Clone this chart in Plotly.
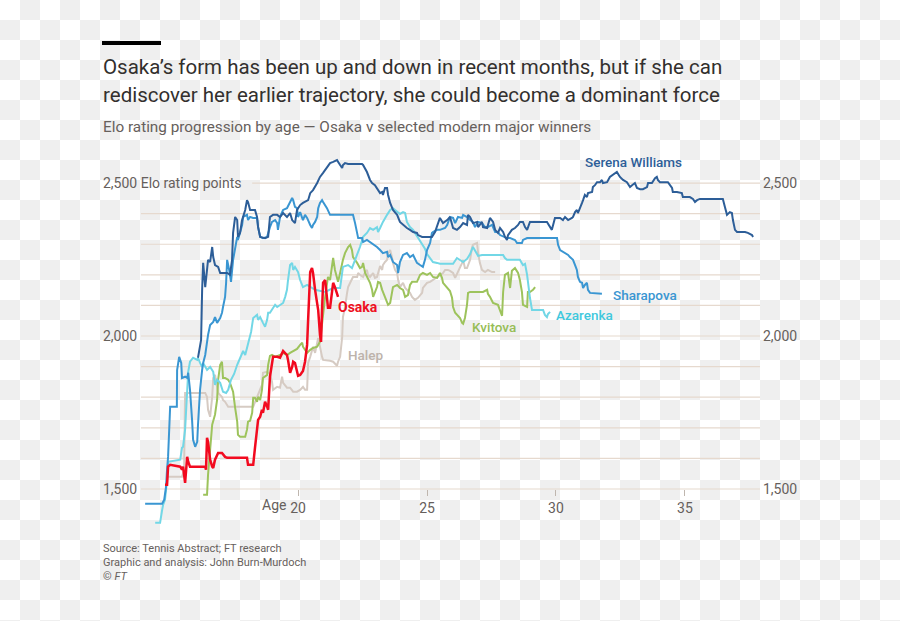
import base64
import plotly.graph_objects as go

# ---------------- data (age, Elo) ----------------
SERENA = [(16.12,1929),(16.24,1987),(16.28,2151),(16.29,2183),(16.32,2239),(16.40,2160),(16.47,2206),(16.51,2249),(16.59,2242),(16.67,2291),(16.71,2258),(16.78,2232),(16.90,2226),(16.98,2206),(17.25,2206),(17.36,2200),(17.44,2249),(17.48,2337),(17.56,2389),(17.64,2379),(17.67,2324),(17.75,2337),(17.83,2379),(17.95,2412),(18.02,2444),(18.06,2438),(18.14,2412),(18.33,2412),(18.41,2389),(18.45,2356),(18.53,2324),(18.72,2320),(18.84,2324),(18.91,2389),(19.03,2396),(19.19,2396),(19.30,2389),(19.42,2402),(19.57,2389),(19.69,2402),(19.77,2379),(19.88,2369),(19.96,2412),(20.08,2428),(20.19,2435),(20.27,2438),(20.39,2444),(20.47,2467),(20.58,2477),(20.74,2500),(20.78,2510),(20.85,2520),(20.97,2533),(21.05,2542),(21.12,2552),(21.24,2565),(21.36,2569),(21.51,2575),(21.63,2559),(21.71,2549),(21.74,2559),(21.82,2565),(21.94,2562),(22.48,2562),(22.52,2559),(22.67,2536),(22.79,2510),(22.87,2500),(22.98,2493),(23.06,2484),(23.18,2467),(23.26,2471),(23.29,2461),(23.37,2484),(23.45,2484),(23.49,2461),(23.57,2435),(23.68,2412),(23.84,2396),(23.95,2373),(24.07,2363),(24.22,2353),(24.34,2347),(24.46,2340),(24.61,2337),(24.65,2330),(24.81,2324),(25.00,2324),(25.19,2324),(25.31,2340),(25.39,2363),(25.50,2386),(25.62,2369),(25.78,2379),(25.89,2389),(26.01,2353),(26.16,2347),(26.28,2356),(26.40,2369),(26.55,2363),(26.59,2396),(26.67,2389),(26.78,2369),(26.94,2373),(26.98,2356),(27.13,2373),(27.17,2356),(27.33,2353),(27.44,2386),(27.56,2373),(27.64,2347),(27.75,2337),(27.83,2353),(27.95,2340),(28.02,2324),(28.10,2314),(28.14,2330),(28.29,2347),(28.41,2353),(28.53,2363),(28.60,2373),(28.72,2373),(28.80,2356),(28.88,2347),(28.99,2373),(29.65,2373),(29.84,2347),(29.88,2363),(29.96,2386),(30.16,2386),(30.27,2379),(30.35,2389),(30.47,2379),(30.62,2386),(30.66,2389),(30.74,2405),(30.81,2412),(30.85,2402),(30.93,2422),(31.01,2435),(31.05,2444),(31.12,2461),(31.20,2454),(31.24,2467),(31.40,2471),(31.43,2487),(31.51,2493),(31.59,2503),(31.71,2503),(31.78,2510),(31.82,2500),(31.98,2503),(32.09,2520),(32.21,2526),(32.36,2536),(32.48,2520),(32.60,2510),(32.75,2503),(32.87,2487),(32.95,2493),(33.06,2500),(33.14,2484),(33.26,2480),(33.37,2480),(33.53,2487),(33.57,2500),(33.72,2500),(33.84,2516),(33.91,2520),(33.95,2510),(34.03,2503),(34.34,2503),(34.42,2493),(34.50,2484),(34.53,2471),(34.69,2471),(34.88,2467),(34.92,2454),(35.19,2454),(35.31,2448),(35.39,2438),(35.47,2444),(35.58,2448),(36.47,2448),(36.55,2422),(36.63,2396),(36.74,2405),(36.82,2402),(36.86,2379),(36.94,2347),(37.02,2340),(37.33,2340),(37.44,2337),(37.60,2330),(37.64,2324)]

SHARAPOVA = [(14.07,1452),(14.73,1452),(14.81,1465),(14.88,1507),(14.92,1563),(14.96,1605),(15.04,1769),(15.23,1769),(15.30,1769),(15.31,1889),(15.39,1932),(15.47,1912),(15.50,1863),(15.62,1867),(15.70,1863),(15.74,1880),(15.81,1824),(15.89,1726),(15.93,1661),(16.01,1638),(16.09,1654),(16.12,1710),(16.20,1824),(16.28,1889),(16.32,1912),(16.40,1938),(16.47,1981),(16.51,2004),(16.59,2036),(16.71,2046),(16.78,2062),(16.86,2043),(16.98,2059),(17.05,2076),(17.09,2095),(17.17,2128),(17.21,2174),(17.25,2249),(17.33,2216),(17.40,2177),(17.48,2249),(17.56,2291),(17.64,2324),(17.67,2314),(17.75,2337),(17.83,2363),(17.87,2389),(18.02,2396),(18.06,2379),(18.14,2389),(18.26,2386),(18.41,2386),(18.45,2356),(18.53,2324),(18.64,2320),(18.80,2324),(18.91,2356),(18.99,2373),(19.11,2379),(19.19,2369),(19.22,2347),(19.30,2389),(19.38,2405),(19.42,2412),(19.57,2418),(19.69,2435),(19.77,2451),(19.81,2444),(19.88,2422),(19.96,2418),(20.00,2389),(20.08,2405),(20.19,2379),(20.27,2396),(20.35,2386),(20.47,2363),(20.54,2353),(20.58,2363),(20.66,2373),(20.74,2389),(20.78,2418),(20.85,2435),(20.93,2444),(20.97,2438),(21.05,2428),(21.12,2418),(21.24,2396),(22.13,2396),(22.21,2369),(22.29,2337),(22.33,2320),(22.48,2320),(22.52,2307),(22.67,2314),(22.79,2307),(22.91,2298),(23.06,2291),(23.18,2281),(23.29,2271),(23.45,2275),(23.49,2258),(23.57,2265),(23.68,2242),(23.84,2232),(23.88,2206),(23.95,2242),(24.07,2265),(24.22,2271),(24.34,2258),(24.46,2265),(24.61,2239),(24.73,2232),(24.84,2226),(24.92,2249),(25.00,2281),(25.12,2304),(25.19,2337),(25.23,2340),(25.39,2347),(25.50,2347),(25.70,2353),(25.78,2363),(25.89,2389),(26.01,2386),(26.09,2369),(26.20,2389),(26.36,2386),(26.40,2396),(26.55,2389),(26.67,2379),(26.78,2373),(26.86,2356),(26.98,2373),(27.13,2369),(27.25,2356),(27.36,2356),(27.52,2363),(27.64,2340),(27.75,2340),(27.83,2330),(28.02,2324),(28.10,2320),(28.22,2320),(28.41,2314),(28.49,2304),(28.68,2304),(28.72,2314),(28.88,2320),(30.04,2320),(30.08,2298),(30.16,2281),(30.27,2275),(30.35,2271),(30.47,2265),(30.54,2258),(30.66,2249),(30.74,2232),(30.81,2216),(30.85,2193),(30.93,2177),(31.01,2174),(31.05,2157),(31.12,2167),(31.20,2174),(31.24,2151),(31.32,2141),(31.78,2138)]

AZARENKA = [(14.46,1390),(14.65,1390),(14.73,1432),(14.77,1449),(14.84,1465),(14.92,1530),(14.96,1589),(15.43,1596),(15.50,1635),(15.54,1638),(15.62,1694),(15.70,1798),(15.74,1883),(15.81,1916),(15.93,1929),(16.09,1922),(16.12,1929),(16.20,1912),(16.28,1899),(16.32,1912),(16.47,1889),(16.59,1899),(16.71,1883),(16.78,1840),(16.86,1857),(16.98,1847),(17.09,1818),(17.21,1814),(17.29,1824),(17.40,1857),(17.52,1876),(17.64,1906),(17.75,1929),(17.87,1951),(17.95,1938),(18.02,1961),(18.10,1987),(18.18,2014),(18.26,2059),(18.41,2069),(18.45,2053),(18.53,2062),(18.64,2043),(18.72,2030),(18.80,2053),(18.84,2076),(18.91,2076),(19.03,2092),(19.11,2102),(19.19,2095),(19.30,2102),(19.42,2108),(19.50,2128),(19.57,2151),(19.61,2183),(19.69,2232),(19.77,2239),(19.81,2216),(19.88,2226),(20.00,2209),(20.08,2183),(20.19,2160),(20.35,2167),(20.66,2151),(21.05,2144),(21.36,2157),(21.63,2157),(21.71,2206),(21.74,2226),(21.94,2232),(22.09,2222),(22.21,2249),(22.33,2275),(22.40,2291),(22.52,2324),(22.67,2337),(22.79,2353),(22.91,2347),(23.06,2356),(23.10,2340),(23.18,2353),(23.29,2373),(23.45,2396),(23.57,2412),(23.68,2418),(23.84,2405),(23.95,2399),(24.07,2405),(24.15,2402),(24.22,2373),(24.34,2356),(24.46,2347),(24.61,2327),(24.73,2314),(24.84,2298),(24.92,2285),(25.00,2268),(25.12,2255),(25.23,2242),(25.39,2239),(25.50,2236),(25.62,2236),(25.78,2236),(26.01,2236),(26.16,2255),(26.28,2249),(26.40,2242),(26.55,2252),(26.67,2268),(26.78,2291),(26.86,2278),(26.98,2262),(27.13,2265),(27.95,2265),(28.02,2255),(28.10,2249),(28.60,2249),(28.72,2232),(28.80,2236),(28.88,2200),(28.99,2125),(29.07,2085),(29.50,2085),(29.57,2069),(29.65,2062),(29.69,2072),(29.77,2079)]

KVITOVA = [(16.32,1481),(16.47,1481),(16.51,1547),(16.59,1628),(16.63,1671),(16.67,1710),(16.78,1743),(16.86,1791),(16.90,1857),(16.98,1906),(17.05,1916),(17.09,1863),(17.17,1863),(17.29,1857),(17.36,1847),(17.48,1818),(17.56,1765),(17.64,1720),(17.67,1677),(17.75,1671),(17.95,1671),(18.02,1694),(18.06,1720),(18.14,1723),(18.22,1749),(18.26,1798),(18.33,1798),(18.41,1785),(18.45,1801),(18.53,1791),(18.60,1824),(18.64,1863),(18.80,1873),(18.84,1906),(18.91,1935),(18.99,1938),(19.11,1932),(19.30,1938),(19.42,1945),(19.57,1938),(19.69,1945),(19.81,1951),(19.96,1958),(20.08,1971),(20.16,1978),(20.19,1965),(20.35,1945),(20.47,1955),(20.58,1961),(20.74,1965),(20.85,1981),(21.05,2128),(21.16,2193),(21.24,2183),(21.32,2239),(21.36,2255),(21.43,2216),(21.51,2193),(21.55,2177),(21.63,2206),(21.71,2239),(21.74,2249),(21.82,2271),(21.90,2288),(21.94,2291),(22.02,2298),(22.09,2281),(22.13,2258),(22.21,2249),(22.29,2239),(22.40,2222),(22.48,2226),(22.52,2239),(22.60,2206),(22.79,2174),(22.87,2151),(22.91,2128),(22.98,2141),(23.06,2160),(23.10,2177),(23.18,2174),(23.26,2151),(23.37,2128),(23.45,2111),(23.49,2102),(23.57,2108),(23.64,2151),(23.68,2160),(23.84,2167),(23.95,2157),(24.07,2151),(24.15,2128),(24.26,2134),(24.34,2167),(24.42,2177),(24.61,2177),(24.73,2200),(24.84,2206),(25.00,2200),(25.12,2206),(25.23,2193),(25.39,2190),(25.50,2206),(25.58,2190),(25.62,2174),(25.78,2160),(25.89,2147),(25.97,2125),(26.01,2095),(26.09,2076),(26.16,2069),(26.28,2059),(26.36,2043),(26.40,2040),(26.47,2059),(26.55,2102),(26.59,2141),(26.67,2144),(27.17,2144),(27.33,2151),(27.36,2138),(27.44,2128),(27.56,2108),(27.75,2102),(27.91,2066),(27.95,2144),(28.02,2200),(28.14,2206),(28.22,2157),(28.29,2213),(28.41,2222),(28.53,2206),(28.60,2183),(28.68,2144),(28.72,2102),(28.88,2095),(28.91,2144),(28.99,2144),(29.11,2151),(29.19,2160)]

HALEP = [(14.92,1540),(15.50,1540),(15.58,1563),(15.62,1814),(16.40,1814),(16.47,1801),(16.51,1759),(16.59,1736),(16.67,1801),(16.71,1863),(16.78,1873),(16.86,1834),(16.90,1814),(17.05,1801),(17.09,1791),(17.17,1785),(17.29,1769),(18.26,1769),(18.41,1801),(18.45,1808),(18.60,1840),(18.64,1880),(18.80,1883),(18.91,1876),(18.99,1850),(19.03,1824),(19.19,1834),(19.30,1831),(19.38,1867),(19.42,1847),(19.57,1831),(19.69,1831),(19.81,1818),(19.96,1818),(20.08,1824),(20.19,1834),(20.27,1824),(20.35,1824),(20.39,1912),(20.47,1932),(20.54,1955),(20.58,1965),(20.66,1945),(20.74,1978),(20.78,1994),(20.93,1932),(20.97,1922),(21.24,1919),(21.36,1916),(21.51,1903),(21.55,1916),(21.63,1932),(21.71,1997),(21.74,2062),(21.82,2095),(21.90,2141),(21.94,2160),(22.02,2174),(22.13,2193),(22.29,2193),(22.33,2206),(22.40,2200),(22.52,2193),(22.60,2209),(22.67,2216),(22.71,2200),(22.79,2193),(22.91,2206),(22.98,2190),(23.06,2193),(23.10,2209),(23.18,2229),(23.26,2216),(23.29,2232),(23.37,2242),(23.45,2249),(23.49,2271),(23.57,2281),(23.64,2258),(23.68,2239),(23.76,2216),(23.84,2206),(23.88,2183),(23.95,2160),(24.07,2174),(24.15,2157),(24.22,2151),(24.34,2141),(24.42,2128),(24.46,2125),(24.53,2118),(24.65,2125),(24.81,2141),(24.84,2157),(25.00,2174),(25.12,2177),(25.23,2183),(25.39,2193),(25.50,2200),(25.62,2206),(25.70,2216),(25.81,2216),(25.89,2213),(26.01,2206),(26.09,2190),(26.28,2222),(26.36,2239),(26.40,2249),(26.47,2222),(26.55,2222),(26.67,2249),(26.74,2288),(26.78,2298),(26.94,2304),(26.98,2271),(27.05,2239),(27.13,2216),(27.25,2209),(27.36,2216),(27.52,2209),(27.64,2209)]

OSAKA = [(14.84,1514),(14.92,1514),(14.96,1573),(15.04,1579),(15.43,1573),(15.50,1563),(15.54,1573),(15.62,1520),(15.70,1605),(15.74,1589),(15.81,1573),(16.40,1573),(16.43,1563),(16.47,1667),(16.51,1654),(16.59,1596),(16.67,1573),(16.71,1569),(16.78,1596),(16.90,1618),(17.05,1618),(17.17,1605),(17.25,1602),(18.02,1602),(18.06,1579),(18.26,1579),(18.33,1635),(18.41,1694),(18.45,1726),(18.53,1736),(18.60,1759),(18.64,1749),(18.72,1785),(18.80,1769),(18.84,1759),(18.91,1867),(18.99,1922),(19.03,1932),(19.19,1932),(19.30,1929),(19.42,1951),(19.57,1938),(19.61,1922),(19.69,1880),(19.77,1899),(19.81,1916),(19.88,1912),(19.96,1889),(20.00,1870),(20.08,1873),(20.19,1886),(20.27,1916),(20.35,1971),(20.39,2053),(20.47,2209),(20.54,2222),(20.58,2206),(20.66,2151),(20.74,2108),(20.78,2085),(20.85,2004),(20.89,1981),(20.93,2085),(20.97,2174),(21.05,2183),(21.12,2125),(21.16,2092),(21.24,2092),(21.32,2141),(21.36,2174),(21.43,2160),(21.51,2141),(21.55,2128)]

GRID_LEVELS = [1500, 1600, 1700, 1800, 1900, 2000, 2100, 2200, 2300, 2400, 2500]
X_TICKS = [20, 25, 30, 35]
X_TICK_TEXT = ["20", "25", "30", "35"]
Y_LABELS = [(2500, "2,500"), (2000, "2,000"), (1500, "1,500")]

# ---------------- layout geometry ----------------
W, H = 900, 621
L, R, T, B = 141, 140, 150, 91
PW, PH = W - L - R, H - T - B
X_RANGE = [13.91, 37.91]
Y_RANGE = [1366, 2608]


def pxx(x):
    return (x - L) / PW


def pxy(y):
    return 1 - (y - T) / PH


FONT = "Roboto, 'Noto Sans', sans-serif"
GREY = "#66605c"
DARK = "#33302e"
GRID = "#e6d9ce"

series = [
    ("Halep", HALEP, "#d6cbc3", 2.0),
    ("Kvitova", KVITOVA, "#9dc35c", 2.0),
    ("Azarenka", AZARENKA, "#72d7e6", 2.0),
    ("Sharapova", SHARAPOVA, "#3a96d2", 2.0),
    ("Serena Williams", SERENA, "#2d5e98", 2.0),
    ("Osaka", OSAKA, "#f20a1f", 2.5),
]

fig = go.Figure()
for name, pts, color, w in series:
    fig.add_trace(go.Scatter(
        x=[p[0] for p in pts], y=[p[1] for p in pts], mode="lines", name=name,
        line=dict(color=color, width=w), hoverinfo="skip", showlegend=False))

shapes = []
for lvl in GRID_LEVELS:
    x0 = 18.22 if lvl == 2500 else X_RANGE[0]
    shapes.append(dict(type="line", xref="x", yref="y", x0=x0, x1=X_RANGE[1], y0=lvl, y1=lvl,
                       line=dict(color=GRID, width=1.2), layer="below"))
# FT black bar above title
shapes.append(dict(type="rect", xref="paper", yref="paper", x0=pxx(102), x1=pxx(161),
                   y0=pxy(45), y1=pxy(41), fillcolor="#000000", line=dict(width=0)))

ann = []
def text(x, y, s, size, color, anchor="left", weight=None, xref="paper", yref="paper", yanchor="middle"):
    f = dict(family=FONT, size=size, color=color)
    if weight:
        f["weight"] = weight
    ann.append(dict(x=x, y=y, xref=xref, yref=yref, text=s, showarrow=False, xanchor=anchor,
                    yanchor=yanchor, font=f))

text(pxx(101), pxy(67), "Osaka’s form has been up and down in recent months, but if she can", 20.5, DARK)
text(pxx(101), pxy(95), "rediscover her earlier trajectory, she could become a dominant force", 20.5, DARK)
text(pxx(101), pxy(127), "Elo rating progression by age — Osaka v selected modern major winners", 15.3, GREY)

for val, lab in Y_LABELS:
    s = lab + " Elo rating points" if val == 2500 else lab
    text(pxx(101), val, s, 14, GREY, yref="y")
    text(pxx(761), val, lab, 14, GREY, yref="y")

text(20, pxy(505), "Age", 14, GREY, anchor="right", xref="x")
ann[-1]["xshift"] = -10

# series labels
text(31.05, 2569, "Serena Williams", 13.5, "#2d5e98", weight=500, xref="x", yref="y")
text(32.13, 2134, "Sharapova", 13.5, "#3a96d2", weight=500, xref="x", yref="y")
text(29.92, 2069, "Azarenka", 13.5, "#3fc8dd", weight=500, xref="x", yref="y")
text(26.67, 2030, "Kvitova", 13.5, "#97bd55", weight=500, xref="x", yref="y")
text(21.86, 1938, "Halep", 13.5, "#bdb3ab", weight=500, xref="x", yref="y")
text(21.47, 2095, "Osaka", 14, "#ee1022", weight=700, xref="x", yref="y")

text(pxx(101), pxy(548), "Source: Tennis Abstract; FT research", 11, GREY)
text(pxx(101), pxy(562), "Graphic and analysis: John Burn-Murdoch", 11, GREY)
text(pxx(101), pxy(576), "© <i>FT</i>", 11, GREY)

# checkerboard backdrop as in the reference picture
svg = ('<svg xmlns="http://www.w3.org/2000/svg" width="900" height="621">'
       '<defs><pattern id="c" width="40" height="40" patternUnits="userSpaceOnUse">'
       '<rect width="40" height="40" fill="#ffffff"/>'
       '<rect x="20" y="0" width="20" height="20" fill="#efefef"/>'
       '<rect x="0" y="20" width="20" height="20" fill="#efefef"/>'
       '</pattern></defs><rect width="900" height="621" fill="url(#c)"/></svg>')
src = "data:image/svg+xml;base64," + base64.b64encode(svg.encode()).decode()

fig.update_layout(
    width=W, height=H,
    margin=dict(l=L, r=R, t=T, b=B, autoexpand=False),
    paper_bgcolor="#ffffff", plot_bgcolor="rgba(0,0,0,0)",
    font=dict(family=FONT, color=GREY),
    shapes=shapes, annotations=ann,
    images=[dict(source=src, xref="paper", yref="paper", x=-L / PW, y=1 + T / PH,
                 sizex=W / PW, sizey=H / PH, xanchor="left", yanchor="top",
                 sizing="stretch", layer="below")],
    xaxis=dict(range=X_RANGE, showgrid=False, zeroline=False, showline=False,
               tickmode="array", tickvals=X_TICKS, ticktext=X_TICK_TEXT,
               ticks="outside", ticklen=6, tickcolor="#bfb6ae", tickwidth=1,
               tickfont=dict(family=FONT, size=14, color=GREY),
               anchor="free", position=(1500 - Y_RANGE[0]) / (Y_RANGE[1] - Y_RANGE[0]),
               fixedrange=True),
    yaxis=dict(range=Y_RANGE, showgrid=False, zeroline=False, showline=False,
               showticklabels=False, ticks="", fixedrange=True),
    hovermode=False,
)

fig.write_html("out.html")
